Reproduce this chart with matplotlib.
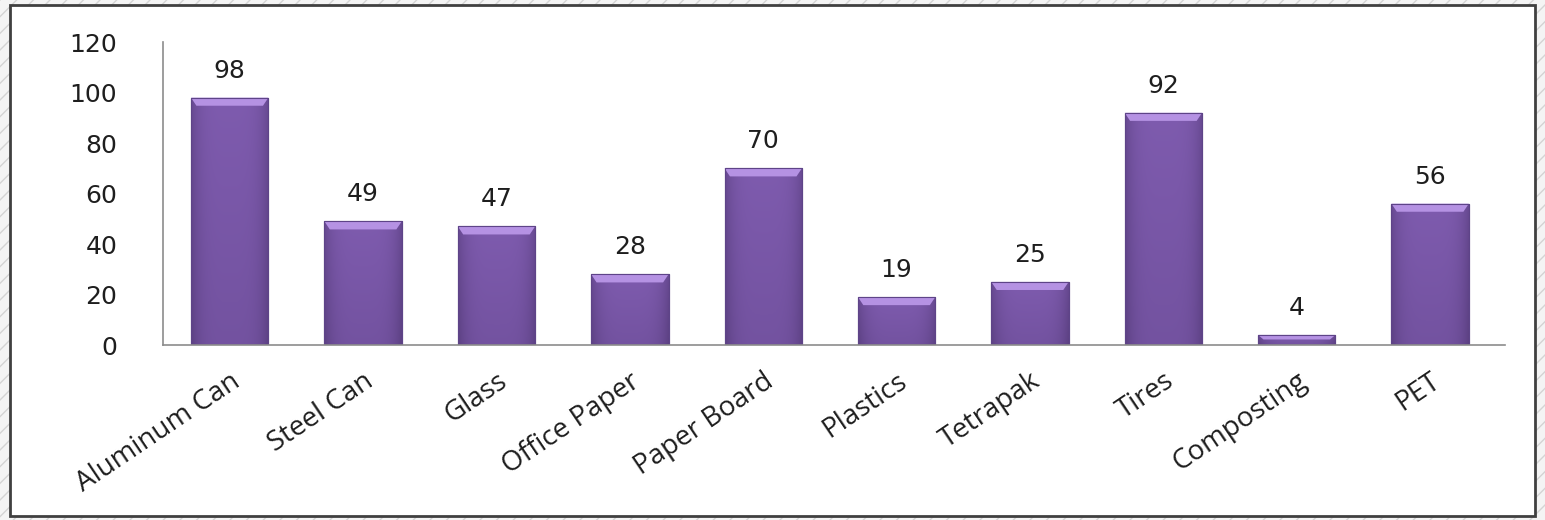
import numpy as np
import matplotlib
matplotlib.use("Agg")
import matplotlib.pyplot as plt
import matplotlib.patches as mpatches

# ── data ─────────────────────────────────────────────────────────
categories = ["Aluminum Can", "Steel Can", "Glass", "Office Paper", "Paper Board",
              "Plastics", "Tetrapak", "Tires", "Composting", "PET"]
values = [98, 49, 47, 28, 70, 19, 25, 92, 4, 56]
yticks = [0, 20, 40, 60, 80, 100, 120]

PURPLE = "#7E5BAE"
DARK = "#5A3F80"
LIGHT = "#B592E3"
AXIS = "#8C8C8C"
TXT = "#1E1E1E"

fig = plt.figure(figsize=(15.45, 5.2), dpi=100)

# slide background: light diagonal stripes, white chart area with dark border
bg = fig.add_axes([0, 0, 1, 1])
bg.set_xlim(0, 1); bg.set_ylim(0, 1); bg.axis("off")
bg.add_patch(mpatches.Rectangle((0, 0), 1, 1, facecolor="#F4F4F4", edgecolor="#D4D4D4",
                                hatch="//", linewidth=0))
bg.add_patch(mpatches.Rectangle((0.0065, 0.008), 0.987, 0.983, facecolor="white",
                                edgecolor="#404040", linewidth=2.0))

ax = fig.add_axes([0.1055, 0.3365, 0.8685, 0.5825])
x = np.arange(len(categories))
w = 0.58

bars = ax.bar(x, values, width=w, color=PURPLE, edgecolor="#5E4488", linewidth=0.8, zorder=2)

# gradient fill: lighter middle, darker edges, darker toward the bottom
gx = np.linspace(-1, 1, 60)
gy = np.linspace(0, 1, 60)[:, None]
shade = 0.62 * gx[None, :] ** 4 + 0.30 * (1 - gy)
c_top = np.array(matplotlib.colors.to_rgb(PURPLE))
c_dark = np.array(matplotlib.colors.to_rgb(DARK))
grad = c_top[None, None, :] * (1 - shade[..., None]) + c_dark[None, None, :] * shade[..., None]
grad = np.clip(grad, 0, 1)

for bar in bars:
    bx, bw, bh = bar.get_x(), bar.get_width(), bar.get_height()
    im = ax.imshow(grad, extent=(bx, bx + bw, 0, bh), origin="lower", aspect="auto",
                   interpolation="bilinear", zorder=3)
    im.set_clip_path(bar)
    # bevelled top
    bev = min(3.2, bh * 0.45)
    inset = bw * 0.07
    ax.add_patch(mpatches.Polygon([(bx, bh), (bx + bw, bh), (bx + bw - inset, bh - bev),
                                   (bx + inset, bh - bev)], closed=True,
                                  facecolor=LIGHT, edgecolor="none", zorder=4))
    ax.add_patch(mpatches.Rectangle((bx, 0), bw, bh, facecolor="none",
                                    edgecolor="#5E4488", linewidth=0.8, zorder=5))

for xi, v in zip(x, values):
    ax.text(xi, v + 6, str(v), ha="center", va="bottom", fontsize=18,
            family="DejaVu Sans", color=TXT)

ax.set_xlim(-0.5, len(categories) - 0.44)
ax.set_ylim(0, 120)
ax.set_yticks(yticks)
ax.set_yticklabels([str(t) for t in yticks], fontsize=18, family="DejaVu Sans", color=TXT)
ax.tick_params(axis="y", length=0, pad=33)
ax.tick_params(axis="x", length=0, pad=16)
ax.set_xticks(x)
ax.set_xticklabels(categories, rotation=34, ha="right", rotation_mode="anchor",
                   fontsize=20, family="Open Sans", color=TXT)

for s in ["top", "right"]:
    ax.spines[s].set_visible(False)
ax.spines["left"].set_color(AXIS)
ax.spines["bottom"].set_color(AXIS)
ax.spines["left"].set_linewidth(1.2)
ax.spines["bottom"].set_linewidth(1.2)
ax.spines["bottom"].set_zorder(6)
ax.patch.set_alpha(0)

plt.savefig("out.png", dpi=100)
plt.close()
